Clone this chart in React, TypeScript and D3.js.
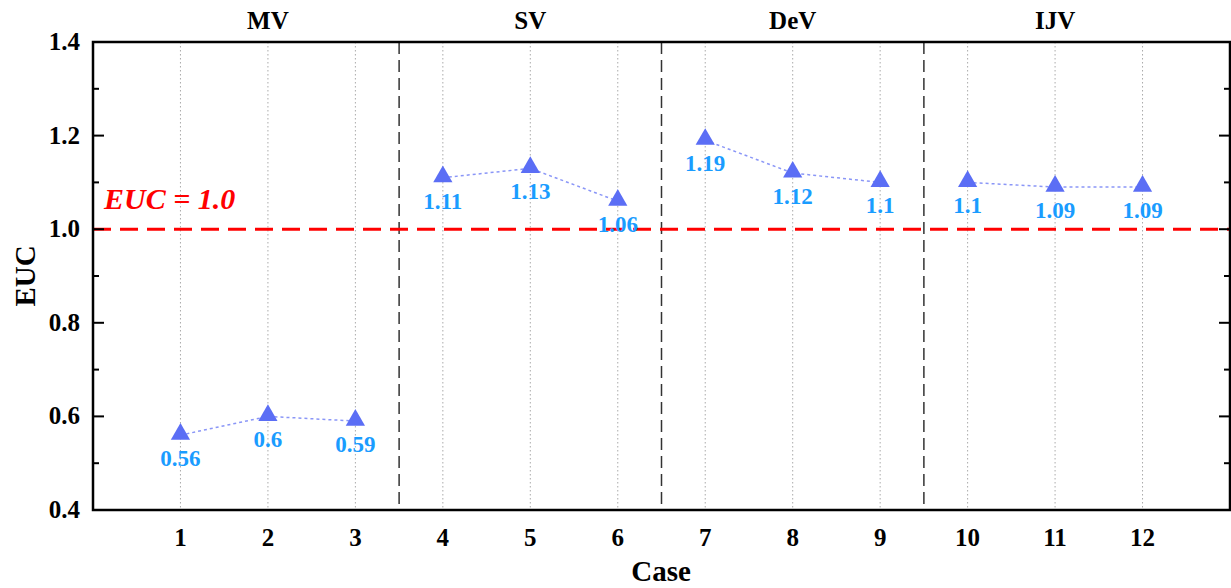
import React from "react";
import * as d3 from "d3";

const cases = [1, 2, 3, 4, 5, 6, 7, 8, 9, 10, 11, 12];
const euc = [0.56, 0.6, 0.59, 1.11, 1.13, 1.06, 1.19, 1.12, 1.1, 1.1, 1.09, 1.09];
const valueLabels = ["0.56", "0.6", "0.59", "1.11", "1.13", "1.06", "1.19", "1.12", "1.1", "1.1", "1.09", "1.09"];
const groups = ["MV", "SV", "DeV", "IJV"];
const groupCenters = [2, 5, 8, 11];
const separators = [3.5, 6.5, 9.5];
const yMajor = [0.4, 0.6, 0.8, 1.0, 1.2, 1.4];
const yMinor = [0.5, 0.7, 0.9, 1.1, 1.3];
const refValue = 1.0;

const W = 1231, H = 588;
const L = 93, R = 1230, T = 42, B = 510;
const FONT = "'Liberation Serif', 'Times New Roman', serif";

export default function App() {
  const x = d3.scaleLinear().domain([0, 13]).range([L, R]);
  const y = d3.scaleLinear().domain([0.4, 1.4]).range([B, T]);
  const groupsIdx = [[0, 3], [3, 6], [6, 9], [9, 12]];
  const tri = d3.symbol().type(d3.symbolTriangle).size(160)();
  return (
    <svg width={W} height={H} style={{ position: "absolute", left: 0, top: 0 }} fontFamily={FONT}>
      {cases.map((c) => (
        <line key={"g" + c} x1={x(c)} x2={x(c)} y1={T} y2={B} stroke="#aaa" strokeWidth={1} strokeDasharray="1.5,2.5" />
      ))}
      {separators.map((s) => (
        <line key={"s" + s} x1={x(s)} x2={x(s)} y1={T} y2={B} stroke="#333" strokeWidth={1.5} strokeDasharray="12,6" />
      ))}
      <line x1={L} x2={R} y1={y(refValue)} y2={y(refValue)} stroke="#ff0000" strokeWidth={3} strokeDasharray="18,9" />
      <text x={104} y={209} fill="#ff0000" fontSize={30} fontWeight="bold" fontStyle="italic">EUC = 1.0</text>
      {groupsIdx.map(([a, b], gi) => {
        const pts = d3.range(a, b).map((i) => [x(cases[i]), y(euc[i])] as [number, number]);
        return (
          <path key={"l" + gi} d={d3.line()(pts) || ""} fill="none" stroke="#8a96f7" strokeWidth={1.5} strokeDasharray="3,3" />
        );
      })}
      {cases.map((c, i) => (
        <path key={"m" + c} d={tri || ""} transform={`translate(${x(c)},${y(euc[i]) - 1})`} fill="#5b6ef5" />
      ))}
      {cases.map((c, i) => (
        <text key={"v" + c} x={x(c)} y={y(euc[i]) + 31} textAnchor="middle" fill="#1a9cff" fontSize={23} fontWeight="bold">
          {valueLabels[i]}
        </text>
      ))}
      <rect x={L} y={T} width={R - L} height={B - T} fill="none" stroke="#000" strokeWidth={2.5} />
      {yMajor.map((v) => (
        <g key={"ym" + v}>
          <line x1={L} x2={L + 11} y1={y(v)} y2={y(v)} stroke="#000" strokeWidth={2} />
          <line x1={R} x2={R - 11} y1={y(v)} y2={y(v)} stroke="#000" strokeWidth={2} />
          <text x={80} y={y(v) + 8} textAnchor="end" fontSize={25} fontWeight="bold">{v.toFixed(1)}</text>
        </g>
      ))}
      {yMinor.map((v) => (
        <g key={"yn" + v}>
          <line x1={L} x2={L + 6} y1={y(v)} y2={y(v)} stroke="#000" strokeWidth={2} />
          <line x1={R} x2={R - 6} y1={y(v)} y2={y(v)} stroke="#000" strokeWidth={2} />
        </g>
      ))}
      {cases.map((c) => (
        <text key={"xt" + c} x={x(c)} y={546} textAnchor="middle" fontSize={25} fontWeight="bold">{c}</text>
      ))}
      {groups.map((g, i) => (
        <text key={"gr" + g} x={x(groupCenters[i])} y={29} textAnchor="middle" fontSize={25} fontWeight="bold">{g}</text>
      ))}
      <text x={661} y={581} textAnchor="middle" fontSize={29} fontWeight="bold">Case</text>
      <text transform={`translate(35,${(T + B) / 2}) rotate(-90)`} textAnchor="middle" fontSize={29} fontWeight="bold">EUC</text>
    </svg>
  );
}
